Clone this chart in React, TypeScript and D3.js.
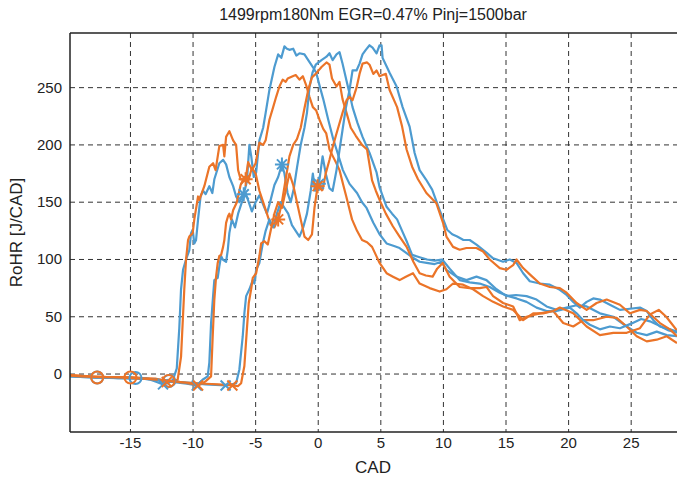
import React from "react";
import * as d3 from "d3";

type P = [number, number];

const title = "1499rpm180Nm EGR=0.47% Pinj=1500bar";
const xLabel = "CAD";
const yLabel = "RoHR [J/CAD]";
const xTicks = [-15, -10, -5, 0, 5, 10, 15, 20, 25];
const yTicks = [0, 50, 100, 150, 200, 250];

const blueA: P[] = [[-19.8,-1.5],[-19,-2],[-18.3,-2.5],[-17.66,-3],[-17,-3],[-16,-3.5],[-15,-3.5],[-14,-4],[-13.4,-5],[-12.9,-7],[-12.4,-9],[-12.0,-8],[-11.6,-5],[-11.3,5],[-11.1,40],[-10.96,74],[-10.8,91],[-10.56,100],[-10.3,108],[-10.16,123],[-10.03,126],[-9.9,114],[-9.76,117],[-9.6,135],[-9.4,155],[-9.2,160],[-9.0,157],[-8.7,164],[-8.46,158],[-8.3,170],[-7.9,184],[-7.6,187],[-7.36,183],[-7.1,172],[-6.8,164],[-6.56,155],[-6.3,150],[-5.95,157],[-5.7,168],[-5.5,200],[-5.35,190],[-5.15,172],[-4.96,176],[-4.7,204],[-4.4,215],[-4.2,228],[-3.9,248],[-3.5,268],[-3.2,279],[-2.95,276],[-2.7,286],[-2.5,284],[-2.3,283],[-2.0,284],[-1.75,278],[-1.5,280],[-1.1,279],[-0.8,274],[-0.43,268],[-0.16,263],[0.1,252],[0.4,240],[0.8,222],[1.2,205],[1.46,196],[1.97,178],[2.5,166],[3.1,158],[3.5,150],[3.86,145],[4.4,132],[4.9,122],[5.46,114],[6.0,112],[6.5,110],[7.0,106],[7.5,102],[8.1,98],[8.66,97],[9.3,96],[9.84,98],[10.24,91],[11.04,85],[11.84,82],[12.64,85],[13.44,82],[14.24,74],[15.04,68],[15.8,69],[16.64,68],[17.44,65],[18.24,59],[19.04,56],[19.84,58],[20.64,60],[21.44,59],[22.5,53],[23.57,50],[24.64,41.5],[25.44,36],[26.24,34],[27.04,37],[27.84,34],[28.66,33]];

const orangeA: P[] = [[-19.8,-1],[-19,-1.5],[-18.3,-2.5],[-17.66,-3],[-17,-3],[-16,-3.2],[-15,-3],[-14,-3.5],[-13,-4],[-12.3,-6],[-12.0,-6.5],[-11.5,-6],[-11.23,-5],[-10.96,15],[-10.7,74],[-10.56,100],[-10.4,117],[-10.3,120],[-10.03,123],[-9.9,135],[-9.6,155],[-9.5,152],[-9.1,164],[-8.7,181],[-8.4,184],[-8.2,178],[-7.9,199],[-7.6,200],[-7.5,190],[-7.36,207],[-7.1,212],[-6.8,204],[-6.56,200],[-6.4,178],[-6.2,170],[-5.8,170],[-5.6,185],[-5.3,178],[-5.0,184],[-4.7,202],[-4.4,200],[-4.2,204],[-3.9,222],[-3.6,233],[-3.36,242],[-3.1,251],[-2.84,257],[-2.6,255],[-2.44,258],[-2.04,260],[-1.8,261],[-1.5,257],[-1.23,260],[-0.96,252],[-0.7,242],[-0.43,233],[-0.16,230],[0.1,222],[0.4,214],[0.64,210],[0.9,196],[1.17,190],[1.45,184],[1.7,178],[2.0,165],[2.24,155],[2.7,135],[3.1,125],[3.5,117],[3.9,115],[4.3,111],[4.6,104],[4.9,97],[5.46,88],[5.97,85],[6.5,82],[7.0,85],[7.57,88],[8.1,79],[8.9,75],[9.7,72],[10.24,74],[10.77,79],[11.57,78],[12.37,74],[13.17,68],[13.97,63],[14.77,59],[15.57,56],[16.37,47],[17.17,53],[17.97,53],[18.77,55],[19.57,44.5],[20.37,41.5],[21.17,47],[21.97,47],[23.04,50],[23.84,49],[24.64,41.5],[25.44,33],[26.24,28.5],[27.04,30],[27.84,33],[28.66,27]];

const blueB: P[] = [[-19.8,-2],[-19,-2.5],[-18,-3],[-17,-3],[-16,-3.3],[-14.6,-3.5],[-13.5,-4.5],[-12.5,-6],[-11.5,-7],[-10.5,-8.5],[-9.7,-10],[-9.24,-5],[-8.83,-2],[-8.7,10],[-8.56,44.5],[-8.4,68],[-8.3,82],[-8.03,84],[-7.9,94],[-7.76,103],[-7.63,100],[-7.36,98],[-7.23,108],[-7.1,123],[-6.9,135],[-6.65,128],[-6.4,140],[-6.1,150],[-5.8,158],[-5.55,150],[-5.3,142],[-5.0,150],[-4.7,156],[-4.4,148],[-4.1,140],[-3.8,152],[-3.5,165],[-3.2,172],[-2.9,183],[-2.7,175],[-2.45,158],[-2.2,150],[-1.95,162],[-1.7,180],[-1.4,200],[-1.1,215],[-0.9,228],[-0.7,250],[-0.46,263],[-0.2,270],[0.26,274],[0.66,277],[0.9,280],[1.15,274],[1.46,279],[1.7,281],[1.94,271],[2.26,256],[2.5,245],[2.74,233],[3.14,219],[3.54,207],[4.1,193],[4.66,176],[4.9,163],[5.46,146],[5.9,140],[6.3,135],[6.7,125],[7.1,115],[7.5,104],[8.1,102],[8.7,100],[9.3,99],[9.9,100],[10.5,92],[11.3,82],[12.1,80],[12.9,79],[13.7,76],[14.5,71],[15.2,68],[15.84,66],[16.64,63],[17.44,58],[18.24,55],[19.04,55],[20.1,58],[20.64,53],[21.17,47],[21.7,43],[22.5,39],[23.3,41.5],[24.1,40],[25,44],[25.8,48],[26.5,46],[27.3,42],[28,38],[28.66,36]];

const orangeB: P[] = [[-19.8,-1],[-19,-1.5],[-18,-2],[-17,-2.5],[-15.0,-3],[-14,-3.5],[-13,-5],[-12,-6],[-11,-7],[-10.2,-8.5],[-9.6,-10],[-9.2,-8],[-8.96,-6],[-8.56,-2],[-8.43,33],[-8.3,65],[-8.16,85],[-8.03,97],[-7.9,103],[-7.76,104],[-7.6,111],[-7.5,117],[-7.36,132],[-7.2,138],[-7.1,140],[-6.96,135],[-6.8,143],[-6.5,150],[-6.2,165],[-5.9,172],[-5.6,168],[-5.3,180],[-5.0,175],[-4.7,160],[-4.4,150],[-4.1,140],[-3.8,130],[-3.5,128],[-3.2,135],[-2.9,150],[-2.6,170],[-2.3,190],[-2.0,200],[-1.7,205],[-1.4,215],[-1.1,232],[-0.8,248],[-0.5,259],[-0.2,262],[0.26,268],[0.66,272],[0.9,270],[1.1,258],[1.46,251],[1.7,255],[1.94,240],[2.26,228],[2.6,215],[3.0,208],[3.5,200],[3.9,196],[4.3,169],[4.6,160],[4.9,152],[5.4,140],[5.96,129],[6.5,120],[7.06,111],[7.6,98],[8.1,88],[8.6,86],[9.14,85],[9.5,92],[9.94,97],[10.5,85],[11.3,76],[12.1,75],[12.9,75],[13.44,76],[13.97,68],[14.77,62],[15.57,59],[16.1,47],[16.64,50],[17.7,53],[18.77,55],[19.3,58],[20.37,53],[21.44,41.5],[22.5,34],[23.57,36],[24.64,36],[25.7,40],[26.5,52],[27.2,56],[27.8,50],[28.66,38]];

const blueC: P[] = [[-19.8,-2],[-19,-2.5],[-18,-3],[-16,-3.5],[-14,-4],[-12.6,-5],[-11.9,-6],[-11,-7],[-10,-8],[-9,-9],[-8.2,-9.5],[-7.4,-10],[-6.9,-9],[-6.56,-8],[-6.3,4],[-6.03,33],[-5.9,53],[-5.76,68],[-5.5,74],[-5.23,82],[-5.1,79],[-4.96,91],[-4.7,97],[-4.56,106],[-4.43,114],[-4.2,125],[-3.9,135],[-3.6,128],[-3.3,140],[-3.0,150],[-2.7,145],[-2.4,140],[-2.1,130],[-1.8,125],[-1.5,120],[-1.2,128],[-0.9,140],[-0.6,160],[-0.43,175],[-0.25,160],[0.05,166],[0.35,190],[0.6,175],[0.9,162],[1.15,160],[1.46,178],[1.94,213],[2.2,232],[2.5,248],[2.74,265],[3.06,265],[3.3,271],[3.54,279],[3.8,283],[4.1,287],[4.34,285],[4.66,280],[4.9,287],[5.06,287],[5.14,276],[5.4,270],[5.7,263],[6.26,251],[6.74,233],[7.3,216],[7.7,193],[8.1,178],[8.6,170],[9.1,161],[9.7,143],[10.3,126],[10.7,122],[11.1,120],[11.6,117],[12.1,117],[12.64,113],[13.44,106],[13.97,101],[14.77,98],[15.3,100],[15.84,97],[16.37,88],[16.9,81],[17.7,79],[18.5,78],[19.3,73.5],[19.84,69],[20.37,63],[20.9,58],[21.44,63],[21.97,66],[22.5,65],[23.3,60.5],[24.1,56],[24.9,57],[25.7,58],[26.24,55],[26.77,47],[27.3,41.5],[28.1,39],[28.66,37]];

const orangeC: P[] = [[-19.8,-1.5],[-19,-2],[-18,-2.5],[-16,-3],[-14,-4],[-12.6,-5],[-11.95,-6],[-11,-7],[-10,-8],[-9,-8.5],[-8,-9],[-7.4,-9.5],[-6.86,-10],[-6.4,-10.5],[-6.16,-8],[-5.9,7],[-5.7,39],[-5.55,62],[-5.36,74],[-5.23,84],[-4.96,88],[-4.7,103],[-4.56,114],[-4.3,116],[-4.03,113],[-3.8,125],[-3.5,140],[-3.2,150],[-2.9,145],[-2.6,160],[-2.3,175],[-2.0,165],[-1.7,150],[-1.4,135],[-1.1,120],[-0.8,117],[-0.5,122],[-0.3,145],[-0.05,164],[0.35,161],[0.6,175],[0.9,187],[1.15,198],[1.46,210],[1.94,228],[2.26,239],[2.5,242],[2.74,239],[3.06,250],[3.3,262],[3.54,271],[3.9,272],[4.1,270],[4.4,262],[4.66,265],[4.9,260],[5.14,261],[5.4,262],[5.7,248],[6.3,233],[6.7,216],[7.06,196],[7.5,181],[7.97,170],[8.64,158],[9.44,149],[9.97,132],[10.24,120],[10.77,111],[11.3,108.5],[11.84,110],[12.64,110],[13.17,107],[13.7,100],[14.5,92.5],[15.04,91],[15.57,95],[15.84,100],[16.37,92.5],[16.9,87],[17.7,79],[18.5,76],[19.3,75],[19.84,71],[20.64,62],[21.44,56],[22.24,62],[23.04,65],[24.1,60.5],[24.9,53],[25.7,56],[26.24,55],[27.3,44.5],[28.1,39],[28.66,33]];

const blueCircles: P[] = [[-17.66,-3],[-14.6,-3.5],[-11.9,-6]];
const orangeCircles: P[] = [[-17.66,-3],[-15.0,-3],[-11.95,-6]];
const blueCrosses: P[] = [[-12.4,-9],[-9.7,-10],[-7.4,-10]];
const orangeCrosses: P[] = [[-12.1,-7],[-9.6,-10],[-6.86,-10]];
const blueStars: P[] = [[-5.95,157],[-2.9,183],[0.05,166]];
const orangeStars: P[] = [[-5.8,170],[-3.2,135],[-0.05,164]];

const BLUE = "#4d9bd0";
const ORANGE = "#eb7428";
const FONT = "'Liberation Sans Narrow', 'Liberation Sans', Arial, sans-serif";

const W = 677, H = 480;
const L = 70, R = 676, T = 33, B = 432;

export default function App() {
  const x = d3.scaleLinear().domain([-19.83, 28.58]).range([L, R]);
  const y = d3.scaleLinear().domain([-50.6, 297.7]).range([B, T]);
  const line = d3.line<P>().x(d => x(d[0])).y(d => y(d[1]));

  const series: { data: P[]; color: string }[] = [
    { data: blueA, color: BLUE },
    { data: orangeA, color: ORANGE },
    { data: blueB, color: BLUE },
    { data: orangeB, color: ORANGE },
    { data: blueC, color: BLUE },
    { data: orangeC, color: ORANGE },
  ];

  const circle = (pts: P[], c: string, k: string) =>
    pts.map((p, i) => (
      <circle key={k + i} cx={x(p[0])} cy={y(p[1])} r={6} fill="none" stroke={c} strokeWidth={2} />
    ));
  const cross = (pts: P[], c: string, k: string) =>
    pts.map((p, i) => {
      const cx = x(p[0]), cy = y(p[1]), s = 5;
      return (
        <path key={k + i} d={`M${cx - s},${cy - s}L${cx + s},${cy + s}M${cx - s},${cy + s}L${cx + s},${cy - s}`} stroke={c} strokeWidth={2} fill="none" />
      );
    });
  const star = (pts: P[], c: string, k: string) =>
    pts.map((p, i) => {
      const cx = x(p[0]), cy = y(p[1]), s = 7, d = 5;
      return (
        <path key={k + i} d={`M${cx - s},${cy}L${cx + s},${cy}M${cx},${cy - s}L${cx},${cy + s}M${cx - d},${cy - d}L${cx + d},${cy + d}M${cx - d},${cy + d}L${cx + d},${cy - d}`} stroke={c} strokeWidth={2} fill="none" />
      );
    });

  return (
    <svg width={W} height={H} style={{ position: "absolute", left: 0, top: 0, background: "#fff" }} fontFamily={FONT}>
      <rect x={0} y={0} width={W} height={H} fill="#fff" />
      <defs>
        <clipPath id="plotclip">
          <rect x={L} y={T} width={R - L + 5} height={B - T} />
        </clipPath>
      </defs>
      {xTicks.map(t => (
        <line key={"gx" + t} x1={x(t)} x2={x(t)} y1={T} y2={B} stroke="#333" strokeWidth={1} strokeDasharray="5,4" />
      ))}
      {yTicks.map(t => (
        <line key={"gy" + t} x1={L} x2={W} y1={y(t)} y2={y(t)} stroke="#333" strokeWidth={1} strokeDasharray="5,4" />
      ))}
      <g clipPath="url(#plotclip)">
        {series.map((s, i) => (
          <path key={"s" + i} d={line(s.data) || ""} fill="none" stroke={s.color} strokeWidth={2.2} strokeLinejoin="round" />
        ))}
        {circle(blueCircles, BLUE, "bc")}
        {circle(orangeCircles, ORANGE, "oc")}
        {cross(blueCrosses, BLUE, "bx")}
        {cross(orangeCrosses, ORANGE, "ox")}
        {star(blueStars, BLUE, "bs")}
        {star(orangeStars, ORANGE, "os")}
      </g>
      <line x1={L} x2={W} y1={T} y2={T} stroke="#222" strokeWidth={1.5} />
      <line x1={L} x2={W} y1={B} y2={B} stroke="#222" strokeWidth={1.5} />
      <line x1={L} x2={L} y1={T} y2={B} stroke="#222" strokeWidth={1.5} />
      {xTicks.map(t => (
        <text key={"tx" + t} x={x(t)} y={B + 16} textAnchor="middle" fontSize={15} fill="#222">{t}</text>
      ))}
      {yTicks.map(t => (
        <text key={"ty" + t} x={L - 8} y={y(t) + 5} textAnchor="end" fontSize={15} fill="#222">{t}</text>
      ))}
      <text x={(L + R) / 2} y={20} textAnchor="middle" fontSize={16} fill="#222">{title}</text>
      <text x={(L + R) / 2} y={473} textAnchor="middle" fontSize={17} fill="#222">{xLabel}</text>
      <text transform={`translate(22,${(T + B) / 2}) rotate(-90)`} textAnchor="middle" fontSize={17} fill="#222">{yLabel}</text>
    </svg>
  );
}
